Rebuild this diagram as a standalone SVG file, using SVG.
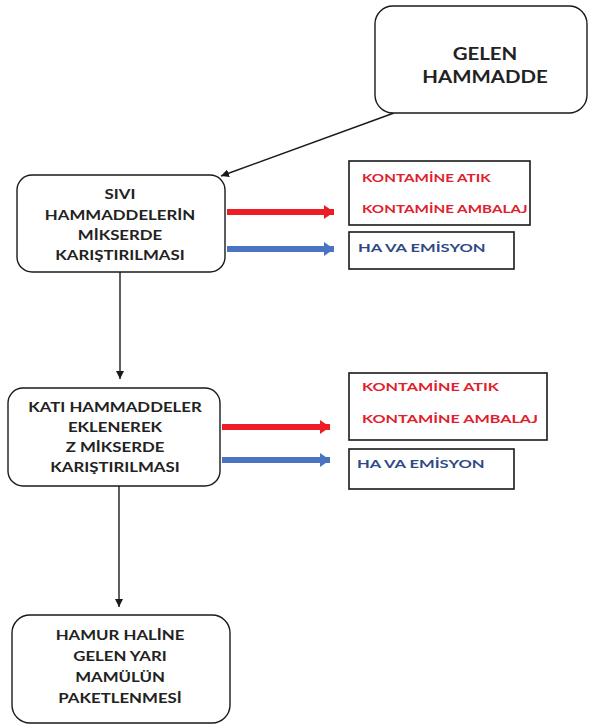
<svg xmlns="http://www.w3.org/2000/svg" width="590" height="726" viewBox="0 0 590 726">
<defs>
<style>
.node{fill:#fff;stroke:#1a1a1a;stroke-width:1.4}
.box{fill:#fff;stroke:#1a1a1a;stroke-width:1.6}
.t{font-family:Lato,"Open Sans","Liberation Sans",sans-serif;font-weight:bold;fill:#222;text-anchor:middle}
.r{font-family:Lato,"Open Sans","Liberation Sans",sans-serif;font-weight:bold;fill:#e0202c;font-size:12px}
.b{font-family:Lato,"Open Sans","Liberation Sans",sans-serif;font-weight:bold;fill:#2e4a86;font-size:12px}
.k{stroke:#1a1a1a;stroke-width:1.4;fill:none}
.red{stroke:#ee1c24;stroke-width:6;fill:none}
.blue{stroke:#4a74c2;stroke-width:6;fill:none}
</style>
<marker id="ak" markerUnits="userSpaceOnUse" markerWidth="10" markerHeight="10" refX="8" refY="4" orient="auto"><path d="M0,0 L8,4 L0,8 Z" fill="#1a1a1a"/></marker>
<marker id="ar" markerUnits="userSpaceOnUse" markerWidth="12" markerHeight="16" refX="10" refY="7" orient="auto"><path d="M0,0 L10,7 L0,14 Z" fill="#ee1c24"/></marker>
<marker id="ab" markerUnits="userSpaceOnUse" markerWidth="12" markerHeight="16" refX="10" refY="7" orient="auto"><path d="M0,0 L10,7 L0,14 Z" fill="#4a74c2"/></marker>
</defs>
<rect width="590" height="726" fill="#fff"/>

<g id="connectors">
<path class="k" d="M394,113 L221,176" marker-end="url(#ak)"/>
<path class="k" d="M120,272 L120,379" marker-end="url(#ak)"/>
<path class="k" d="M119,486 L119,607" marker-end="url(#ak)"/>
<path class="red" d="M227,212 L334,212" marker-end="url(#ar)"/>
<path class="blue" d="M227,249 L334,249" marker-end="url(#ab)"/>
<path class="red" d="M222,427 L330,427" marker-end="url(#ar)"/>
<path class="blue" d="M222,460 L330,460" marker-end="url(#ab)"/>
</g>

<g id="gelen">
<rect class="node" x="375" y="6" width="212" height="107" rx="18"/>
<g transform="translate(485 0) scale(1.2 1)">
<text class="t" x="0" y="60" font-size="17">GELEN</text>
<text class="t" x="0" y="83" font-size="17">HAMMADDE</text>
</g>
</g>

<g id="sivi">
<rect class="node" x="17" y="175" width="208" height="97" rx="15"/>
<g transform="translate(120 0) scale(1.2 1)">
<text class="t" x="0" y="199" font-size="14">SIVI</text>
<text class="t" x="0" y="220" font-size="14">HAMMADDELERİN</text>
<text class="t" x="0" y="240" font-size="14">MİKSERDE</text>
<text class="t" x="0" y="260" font-size="14">KARIŞTIRILMASI</text>
</g>
</g>

<g id="out1">
<rect class="box" x="349" y="161" width="181" height="64"/>
<g transform="translate(362 0) scale(1.27 1)">
<text class="r" x="0" y="182">KONTAMİNE ATIK</text>
<text class="r" x="0" y="213">KONTAMİNE AMBALAJ</text>
</g>
</g>

<g id="air1">
<rect class="box" x="349" y="232" width="165" height="37"/>
<g transform="translate(358 0) scale(1.38 1)">
<text class="b" x="0" y="252">HA<tspan dx="2">VA EMİSYON</tspan></text>
</g>
</g>

<g id="kati">
<rect class="node" x="8" y="388" width="212" height="98" rx="15"/>
<g transform="translate(115 0) scale(1.2 1)">
<text class="t" x="0" y="412" font-size="14">KATI HAMMADDELER</text>
<text class="t" x="0" y="432" font-size="14">EKLENEREK</text>
<text class="t" x="0" y="452" font-size="14">Z MİKSERDE</text>
<text class="t" x="0" y="472" font-size="14">KARIŞTIRILMASI</text>
</g>
</g>

<g id="out2">
<rect class="box" x="349" y="373" width="198" height="67"/>
<g transform="translate(362 0) scale(1.35 1)">
<text class="r" x="0" y="391">KONTAMİNE ATIK</text>
<text class="r" x="0" y="423">KONTAMİNE AMBALAJ</text>
</g>
</g>

<g id="air2">
<rect class="box" x="349" y="449" width="165" height="40"/>
<g transform="translate(357 0) scale(1.38 1)">
<text class="b" x="0" y="468">HA<tspan dx="2">VA EMİSYON</tspan></text>
</g>
</g>

<g id="hamur">
<rect class="node" x="12" y="615" width="218" height="108" rx="18"/>
<g transform="translate(120 0) scale(1.2 1)">
<text class="t" x="0" y="640" font-size="14">HAMUR HALİNE</text>
<text class="t" x="0" y="661" font-size="14">GELEN YARI</text>
<text class="t" x="0" y="682" font-size="14">MAMÜLÜN</text>
<text class="t" x="0" y="703" font-size="14">PAKETLENMESİ</text>
</g>
</g>
</svg>
